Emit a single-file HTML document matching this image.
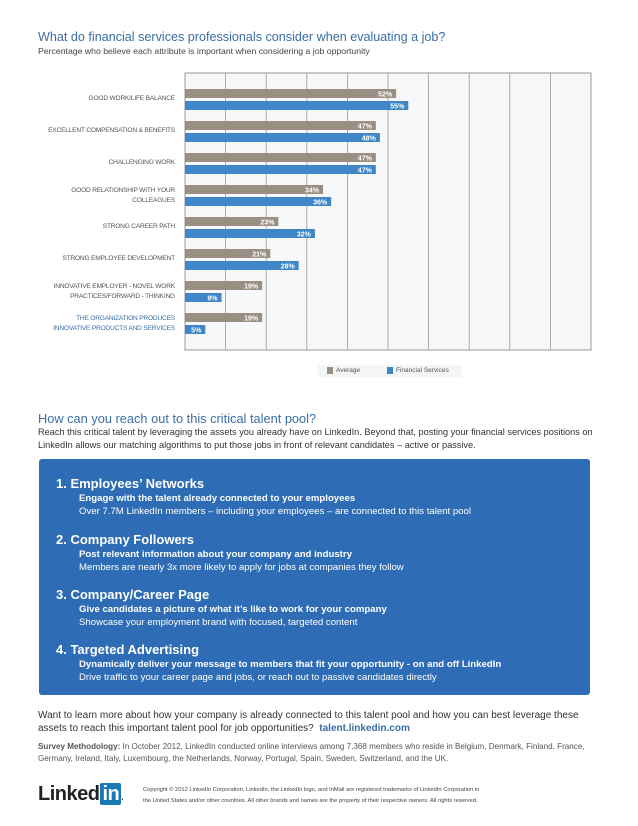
<!DOCTYPE html>
<html><head><meta charset="utf-8">
<style>
body{margin:0;width:638px;height:826px;background:#fff;position:relative;overflow:hidden;font-family:"Liberation Sans",sans-serif;}
.a{position:absolute;white-space:nowrap;}
.lbl{position:absolute;right:463px;text-align:right;font-size:6.6px;color:#555;letter-spacing:-0.2px;line-height:10px;}
.box h3{margin:0;font-size:13px;font-weight:bold;color:#fff;position:absolute;left:17px;}
.box .s{position:absolute;left:40px;font-size:9.6px;color:#fff;}
</style></head><body>
<div class="a" style="left:38px;top:30px;font-size:12.6px;color:#3a6ea5;">What do financial services professionals consider when evaluating a job?</div>
<div class="a" style="left:38px;top:46px;font-size:8.7px;color:#444;">Percentage who believe each attribute is important when considering a job opportunity</div>

<svg id="chart" class="a" style="left:0;top:0" width="638" height="390"></svg>
<div id="labels"></div>

<div class="a" style="left:318px;top:365px;width:144px;height:12px;background:#f3f5f6;font-size:6.5px;color:#555;">
<span style="position:absolute;left:9px;top:2px;width:6px;height:7px;background:#9a8f83"></span><span style="position:absolute;left:18px;top:2px">Average</span>
<span style="position:absolute;left:69px;top:2px;width:6px;height:7px;background:#3f86c6"></span><span style="position:absolute;left:78px;top:2px">Financial Services</span>
</div>

<div class="a" style="left:38px;top:411px;font-size:12.8px;color:#3a6ea5;">How can you reach out to this critical talent pool?</div>
<div class="a" style="left:38px;top:426px;font-size:9.2px;color:#333;line-height:13px;white-space:normal;width:565px;">Reach this critical talent by leveraging the assets you already have on LinkedIn. Beyond that, posting your financial services positions on LinkedIn allows our matching algorithms to put those jobs in front of relevant candidates – active or passive.</div>

<div class="a box" style="left:39px;top:459px;width:551px;height:236px;background:#2e6db5;border-radius:3px;">
<h3 style="top:17px">1. Employees’ Networks</h3>
<div class="s" style="top:34px;font-weight:bold">Engage with the talent already connected to your employees</div>
<div class="s" style="top:47px">Over 7.7M LinkedIn members – including your employees – are connected to this talent pool</div>
<h3 style="top:73px">2. Company Followers</h3>
<div class="s" style="top:90px;font-weight:bold">Post relevant information about your company and industry</div>
<div class="s" style="top:103px">Members are nearly 3x more likely to apply for jobs at companies they follow</div>
<h3 style="top:128px">3. Company/Career Page</h3>
<div class="s" style="top:145px;font-weight:bold">Give candidates a picture of what it’s like to work for your company</div>
<div class="s" style="top:158px">Showcase your employment brand with focused, targeted content</div>
<h3 style="top:183px">4. Targeted Advertising</h3>
<div class="s" style="top:200px;font-weight:bold">Dynamically deliver your message to members that fit your opportunity - on and off LinkedIn</div>
<div class="s" style="top:213px">Drive traffic to your career page and jobs, or reach out to passive candidates directly</div>
</div>

<div class="a" style="left:38px;top:709px;font-size:10px;color:#333;line-height:13px;">Want to learn more about how your company is already connected to this talent pool and how you can best leverage these<br>assets to reach this important talent pool for job opportunities? &nbsp;<b style="color:#3a6ea5">talent.linkedin.com</b></div>
<div class="a" style="left:38px;top:741px;font-size:8.1px;color:#555;line-height:12px;"><b>Survey Methodology:</b> In October 2012, LinkedIn conducted online interviews among 7,368 members who reside in Belgium, Denmark, Finland, France,<br>Germany, Ireland, Italy, Luxembourg, the Netherlands, Norway, Portugal, Spain, Sweden, Switzerland, and the UK.</div>

<div class="a" style="left:38px;top:783px;font-size:20px;font-weight:bold;color:#222;letter-spacing:-0.5px;">Linked<span style="background:#1a78b4;color:#fff;padding:0 2px;border-radius:2px;margin-left:1px">in</span><span style="font-size:8px">.</span></div>
<div class="a" style="left:143px;top:785px;font-size:5.75px;color:#444;line-height:11px;">Copyright © 2012 LinkedIn Corporation. LinkedIn, the LinkedIn logo, and InMail are registered trademarks of LinkedIn Corporation in<br>the United States and/or other countries. All other brands and names are the property of their respective owners. All rights reserved.</div>

<script>
const categories=["GOOD WORK/LIFE BALANCE","EXCELLENT COMPENSATION & BENEFITS","CHALLENGING WORK","GOOD RELATIONSHIP WITH YOUR<br>COLLEAGUES","STRONG CAREER PATH","STRONG EMPLOYEE DEVELOPMENT","INNOVATIVE EMPLOYER - NOVEL WORK<br>PRACTICES/FORWARD - THINKING","THE ORGANIZATION PRODUCES<br>INNOVATIVE PRODUCTS AND SERVICES"];
const averageValues=[52,47,47,34,23,21,19,19];
const financialValues=[55,48,47,36,32,28,9,5];
const gridTicks=[0,10,20,30,40,50,60,70,80,90,100];

const NS="http://www.w3.org/2000/svg";
const svg=document.getElementById('chart');
const x0=185,x1=591,yTop=73,yBot=350;
function xs(v){return x0+(x1-x0)*v/100;}
function rowY(i){return 89+i*32;}
function el(t,a){const e=document.createElementNS(NS,t);for(const k in a)e.setAttribute(k,a[k]);svg.appendChild(e);return e;}
const bg=el('rect',{x:x0,y:yTop,width:x1-x0,height:yBot-yTop,fill:'#f6f8f9',stroke:'#999','stroke-width':1});


gridTicks.forEach(t=>{
  const l=el('line',{x1:xs(t),x2:xs(t),y1:yTop,y2:yBot,stroke:'#999','stroke-width':0.8});
  
  
});
function bar(v,y,col,name){
  const r=el('rect',{x:x0,y:y,width:xs(v)-x0,height:9,fill:col});
  
  
  const t=el('text',{x:xs(v)-4,y:y+7.5,'text-anchor':'end','font-size':7,'font-weight':'bold',fill:'#fff','font-family':'Liberation Sans, sans-serif'});
  t.textContent=v+'%';
  
  
}
const lab=document.getElementById('labels');
categories.forEach((c,i)=>{
  const y=rowY(i);
  bar(averageValues[i],y,'#9a8f83','bar-average');
  bar(financialValues[i],y+12,'#3f86c6','bar-financial');
  const d=document.createElement('div');
  d.className='lbl';
  
  
  d.innerHTML=c;
  const two=c.indexOf('<br>')>=0;
  d.style.top=(two?y+1:y+5)+'px';
  if(i===categories.length-1){d.style.color='#3a6ea5';}
  lab.appendChild(d);
});
</script>
</body></html>
